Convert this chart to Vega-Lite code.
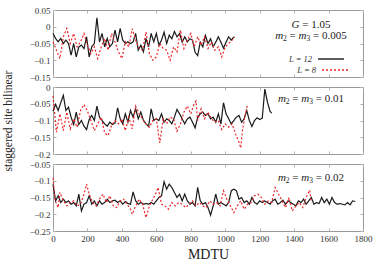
{
"$schema":"https://vega.github.io/schema/vega-lite/v6.json",
"padding":{"left":1,"top":5,"right":5,"bottom":3},
"spacing":10,
"bounds":"flush",
"config":{
 "view":{"stroke":"#9a9a9a","strokeWidth":1},
 "font":"Liberation Serif",
 "text":{"font":"Liberation Serif","fontSize":11,"color":"#222","align":"left","baseline":"middle"},
 "axis":{"labelFont":"Liberation Serif","labelFontSize":9,"labelColor":"#333","titleFont":"Liberation Serif","titleFontWeight":"normal","titleColor":"#222","domain":false,"grid":false,"tickColor":"#b0b0b0","tickSize":-3,"labelPadding":6,"labelFlush":false,"labelOverlap":false},
 "legend":{"labelFont":"Liberation Serif","labelFontSize":8.5,"labelFontStyle":"italic","labelColor":"#333","title":null,"orient":"none","symbolType":"stroke","symbolSize":676,"symbolStrokeWidth":1.4,"labelAlign":"right","labelOffset":-33}
},
"data":{"values":[
{"p":1,"L":"12","t":0,"v":-0.02},{"p":1,"L":"12","t":15,"v":-0.035},{"p":1,"L":"12","t":30,"v":-0.045},{"p":1,"L":"12","t":45,"v":-0.035},{"p":1,"L":"12","t":60,"v":-0.05},{"p":1,"L":"12","t":75,"v":-0.04},{"p":1,"L":"12","t":90,"v":-0.05},{"p":1,"L":"12","t":105,"v":-0.085},{"p":1,"L":"12","t":120,"v":-0.05},{"p":1,"L":"12","t":135,"v":-0.09},{"p":1,"L":"12","t":150,"v":-0.06},{"p":1,"L":"12","t":165,"v":-0.055},{"p":1,"L":"12","t":180,"v":-0.065},{"p":1,"L":"12","t":195,"v":-0.03},{"p":1,"L":"12","t":210,"v":-0.09},{"p":1,"L":"12","t":225,"v":-0.06},{"p":1,"L":"12","t":240,"v":-0.05},{"p":1,"L":"12","t":255,"v":0.027},{"p":1,"L":"12","t":270,"v":-0.045},{"p":1,"L":"12","t":285,"v":-0.02},{"p":1,"L":"12","t":300,"v":-0.06},{"p":1,"L":"12","t":315,"v":-0.035},{"p":1,"L":"12","t":330,"v":-0.06},{"p":1,"L":"12","t":345,"v":-0.05},{"p":1,"L":"12","t":360,"v":-0.01},{"p":1,"L":"12","t":375,"v":-0.045},{"p":1,"L":"12","t":390,"v":-0.005},{"p":1,"L":"12","t":405,"v":-0.04},{"p":1,"L":"12","t":420,"v":-0.05},{"p":1,"L":"12","t":435,"v":-0.045},{"p":1,"L":"12","t":450,"v":-0.05},{"p":1,"L":"12","t":465,"v":-0.045},{"p":1,"L":"12","t":480,"v":-0.02},{"p":1,"L":"12","t":495,"v":-0.07},{"p":1,"L":"12","t":510,"v":-0.055},{"p":1,"L":"12","t":525,"v":-0.075},{"p":1,"L":"12","t":540,"v":-0.035},{"p":1,"L":"12","t":555,"v":-0.06},{"p":1,"L":"12","t":570,"v":-0.02},{"p":1,"L":"12","t":585,"v":-0.045},{"p":1,"L":"12","t":600,"v":-0.02},{"p":1,"L":"12","t":615,"v":-0.055},{"p":1,"L":"12","t":630,"v":-0.04},{"p":1,"L":"12","t":645,"v":-0.016},{"p":1,"L":"12","t":660,"v":-0.05},{"p":1,"L":"12","t":675,"v":-0.025},{"p":1,"L":"12","t":690,"v":-0.036},{"p":1,"L":"12","t":705,"v":-0.014},{"p":1,"L":"12","t":720,"v":-0.03},{"p":1,"L":"12","t":735,"v":-0.02},{"p":1,"L":"12","t":750,"v":-0.046},{"p":1,"L":"12","t":765,"v":-0.03},{"p":1,"L":"12","t":780,"v":-0.045},{"p":1,"L":"12","t":795,"v":-0.036},{"p":1,"L":"12","t":810,"v":-0.04},{"p":1,"L":"12","t":825,"v":-0.076},{"p":1,"L":"12","t":840,"v":-0.086},{"p":1,"L":"12","t":855,"v":-0.046},{"p":1,"L":"12","t":870,"v":-0.06},{"p":1,"L":"12","t":885,"v":-0.026},{"p":1,"L":"12","t":900,"v":-0.05},{"p":1,"L":"12","t":915,"v":-0.036},{"p":1,"L":"12","t":930,"v":-0.06},{"p":1,"L":"12","t":945,"v":-0.046},{"p":1,"L":"12","t":960,"v":-0.03},{"p":1,"L":"12","t":975,"v":-0.046},{"p":1,"L":"12","t":990,"v":-0.064},{"p":1,"L":"12","t":1005,"v":-0.046},{"p":1,"L":"12","t":1020,"v":-0.03},{"p":1,"L":"12","t":1035,"v":-0.04},{"p":1,"L":"12","t":1050,"v":-0.03},
{"p":1,"L":"8","t":0,"v":-0.045},{"p":1,"L":"8","t":20,"v":-0.07},{"p":1,"L":"8","t":40,"v":-0.095},{"p":1,"L":"8","t":60,"v":-0.03},{"p":1,"L":"8","t":80,"v":-0.005},{"p":1,"L":"8","t":100,"v":-0.05},{"p":1,"L":"8","t":120,"v":-0.02},{"p":1,"L":"8","t":140,"v":-0.06},{"p":1,"L":"8","t":160,"v":-0.045},{"p":1,"L":"8","t":180,"v":-0.02},{"p":1,"L":"8","t":200,"v":-0.055},{"p":1,"L":"8","t":220,"v":-0.08},{"p":1,"L":"8","t":240,"v":-0.06},{"p":1,"L":"8","t":260,"v":-0.095},{"p":1,"L":"8","t":280,"v":-0.06},{"p":1,"L":"8","t":300,"v":-0.035},{"p":1,"L":"8","t":320,"v":-0.07},{"p":1,"L":"8","t":340,"v":-0.02},{"p":1,"L":"8","t":360,"v":-0.045},{"p":1,"L":"8","t":380,"v":-0.075},{"p":1,"L":"8","t":400,"v":-0.095},{"p":1,"L":"8","t":420,"v":-0.045},{"p":1,"L":"8","t":440,"v":-0.06},{"p":1,"L":"8","t":460,"v":-0.006},{"p":1,"L":"8","t":480,"v":-0.04},{"p":1,"L":"8","t":500,"v":-0.065},{"p":1,"L":"8","t":520,"v":-0.07},{"p":1,"L":"8","t":540,"v":-0.016},{"p":1,"L":"8","t":560,"v":-0.08},{"p":1,"L":"8","t":580,"v":-0.1},{"p":1,"L":"8","t":600,"v":-0.09},{"p":1,"L":"8","t":620,"v":-0.05},{"p":1,"L":"8","t":640,"v":-0.065},{"p":1,"L":"8","t":660,"v":-0.07},{"p":1,"L":"8","t":680,"v":-0.1},{"p":1,"L":"8","t":700,"v":-0.06},{"p":1,"L":"8","t":720,"v":-0.075},{"p":1,"L":"8","t":740,"v":-0.01},{"p":1,"L":"8","t":760,"v":-0.065},{"p":1,"L":"8","t":780,"v":-0.04},{"p":1,"L":"8","t":800,"v":-0.02},{"p":1,"L":"8","t":820,"v":-0.06},{"p":1,"L":"8","t":840,"v":-0.03},{"p":1,"L":"8","t":860,"v":-0.055},{"p":1,"L":"8","t":880,"v":-0.03},{"p":1,"L":"8","t":900,"v":-0.065},{"p":1,"L":"8","t":920,"v":-0.045},{"p":1,"L":"8","t":940,"v":-0.07},{"p":1,"L":"8","t":960,"v":-0.06},{"p":1,"L":"8","t":980,"v":-0.09},{"p":1,"L":"8","t":1000,"v":-0.06},{"p":1,"L":"8","t":1020,"v":-0.05},{"p":1,"L":"8","t":1040,"v":-0.04},{"p":1,"L":"8","t":1055,"v":-0.03},
{"p":2,"L":"12","t":0,"v":-0.072},{"p":2,"L":"12","t":15,"v":-0.052},{"p":2,"L":"12","t":30,"v":-0.07},{"p":2,"L":"12","t":45,"v":-0.047},{"p":2,"L":"12","t":60,"v":-0.025},{"p":2,"L":"12","t":75,"v":-0.07},{"p":2,"L":"12","t":90,"v":-0.06},{"p":2,"L":"12","t":105,"v":-0.09},{"p":2,"L":"12","t":120,"v":-0.112},{"p":2,"L":"12","t":135,"v":-0.075},{"p":2,"L":"12","t":150,"v":-0.112},{"p":2,"L":"12","t":165,"v":-0.1},{"p":2,"L":"12","t":180,"v":-0.117},{"p":2,"L":"12","t":195,"v":-0.127},{"p":2,"L":"12","t":210,"v":-0.097},{"p":2,"L":"12","t":225,"v":-0.085},{"p":2,"L":"12","t":240,"v":-0.1},{"p":2,"L":"12","t":255,"v":-0.057},{"p":2,"L":"12","t":270,"v":-0.09},{"p":2,"L":"12","t":285,"v":-0.1},{"p":2,"L":"12","t":300,"v":-0.11},{"p":2,"L":"12","t":315,"v":-0.117},{"p":2,"L":"12","t":330,"v":-0.105},{"p":2,"L":"12","t":345,"v":-0.112},{"p":2,"L":"12","t":360,"v":-0.108},{"p":2,"L":"12","t":375,"v":-0.062},{"p":2,"L":"12","t":390,"v":-0.095},{"p":2,"L":"12","t":405,"v":-0.11},{"p":2,"L":"12","t":420,"v":-0.08},{"p":2,"L":"12","t":435,"v":-0.105},{"p":2,"L":"12","t":450,"v":-0.07},{"p":2,"L":"12","t":465,"v":-0.09},{"p":2,"L":"12","t":480,"v":-0.065},{"p":2,"L":"12","t":495,"v":-0.095},{"p":2,"L":"12","t":510,"v":-0.075},{"p":2,"L":"12","t":525,"v":-0.1},{"p":2,"L":"12","t":540,"v":-0.11},{"p":2,"L":"12","t":555,"v":-0.118},{"p":2,"L":"12","t":570,"v":-0.065},{"p":2,"L":"12","t":585,"v":-0.1},{"p":2,"L":"12","t":600,"v":-0.095},{"p":2,"L":"12","t":615,"v":-0.1},{"p":2,"L":"12","t":630,"v":-0.08},{"p":2,"L":"12","t":645,"v":-0.105},{"p":2,"L":"12","t":660,"v":-0.095},{"p":2,"L":"12","t":675,"v":-0.1},{"p":2,"L":"12","t":690,"v":-0.11},{"p":2,"L":"12","t":705,"v":-0.09},{"p":2,"L":"12","t":720,"v":-0.067},{"p":2,"L":"12","t":735,"v":-0.08},{"p":2,"L":"12","t":750,"v":-0.095},{"p":2,"L":"12","t":765,"v":-0.11},{"p":2,"L":"12","t":780,"v":-0.095},{"p":2,"L":"12","t":795,"v":-0.09},{"p":2,"L":"12","t":810,"v":-0.105},{"p":2,"L":"12","t":825,"v":-0.122},{"p":2,"L":"12","t":840,"v":-0.09},{"p":2,"L":"12","t":855,"v":-0.08},{"p":2,"L":"12","t":870,"v":-0.075},{"p":2,"L":"12","t":885,"v":-0.085},{"p":2,"L":"12","t":900,"v":-0.08},{"p":2,"L":"12","t":915,"v":-0.095},{"p":2,"L":"12","t":930,"v":-0.09},{"p":2,"L":"12","t":945,"v":-0.105},{"p":2,"L":"12","t":960,"v":-0.08},{"p":2,"L":"12","t":975,"v":-0.11},{"p":2,"L":"12","t":990,"v":-0.047},{"p":2,"L":"12","t":1005,"v":-0.08},{"p":2,"L":"12","t":1020,"v":-0.095},{"p":2,"L":"12","t":1035,"v":-0.11},{"p":2,"L":"12","t":1050,"v":-0.1},{"p":2,"L":"12","t":1065,"v":-0.09},{"p":2,"L":"12","t":1080,"v":-0.085},{"p":2,"L":"12","t":1095,"v":-0.105},{"p":2,"L":"12","t":1110,"v":-0.095},{"p":2,"L":"12","t":1125,"v":-0.07},{"p":2,"L":"12","t":1140,"v":-0.1},{"p":2,"L":"12","t":1155,"v":-0.118},{"p":2,"L":"12","t":1170,"v":-0.1},{"p":2,"L":"12","t":1185,"v":-0.092},{"p":2,"L":"12","t":1200,"v":-0.097},{"p":2,"L":"12","t":1215,"v":-0.093},{"p":2,"L":"12","t":1230,"v":-0.006},{"p":2,"L":"12","t":1245,"v":-0.045},{"p":2,"L":"12","t":1260,"v":-0.072},{"p":2,"L":"12","t":1270,"v":-0.078},
{"p":2,"L":"8","t":0,"v":-0.027},{"p":2,"L":"8","t":20,"v":-0.135},{"p":2,"L":"8","t":40,"v":-0.08},{"p":2,"L":"8","t":60,"v":-0.13},{"p":2,"L":"8","t":80,"v":-0.075},{"p":2,"L":"8","t":100,"v":-0.125},{"p":2,"L":"8","t":120,"v":-0.095},{"p":2,"L":"8","t":140,"v":-0.12},{"p":2,"L":"8","t":160,"v":-0.07},{"p":2,"L":"8","t":180,"v":-0.052},{"p":2,"L":"8","t":200,"v":-0.072},{"p":2,"L":"8","t":220,"v":-0.1},{"p":2,"L":"8","t":240,"v":-0.13},{"p":2,"L":"8","t":260,"v":-0.11},{"p":2,"L":"8","t":280,"v":-0.09},{"p":2,"L":"8","t":300,"v":-0.137},{"p":2,"L":"8","t":320,"v":-0.145},{"p":2,"L":"8","t":340,"v":-0.115},{"p":2,"L":"8","t":360,"v":-0.1},{"p":2,"L":"8","t":380,"v":-0.11},{"p":2,"L":"8","t":400,"v":-0.095},{"p":2,"L":"8","t":420,"v":-0.13},{"p":2,"L":"8","t":440,"v":-0.09},{"p":2,"L":"8","t":460,"v":-0.125},{"p":2,"L":"8","t":480,"v":-0.057},{"p":2,"L":"8","t":500,"v":-0.08},{"p":2,"L":"8","t":520,"v":-0.095},{"p":2,"L":"8","t":540,"v":-0.11},{"p":2,"L":"8","t":560,"v":-0.12},{"p":2,"L":"8","t":580,"v":-0.1},{"p":2,"L":"8","t":600,"v":-0.095},{"p":2,"L":"8","t":610,"v":-0.13},{"p":2,"L":"8","t":620,"v":-0.167},{"p":2,"L":"8","t":640,"v":-0.095},{"p":2,"L":"8","t":660,"v":-0.11},{"p":2,"L":"8","t":680,"v":-0.09},{"p":2,"L":"8","t":700,"v":-0.095},{"p":2,"L":"8","t":720,"v":-0.132},{"p":2,"L":"8","t":740,"v":-0.11},{"p":2,"L":"8","t":760,"v":-0.075},{"p":2,"L":"8","t":780,"v":-0.057},{"p":2,"L":"8","t":800,"v":-0.08},{"p":2,"L":"8","t":820,"v":-0.05},{"p":2,"L":"8","t":830,"v":-0.042},{"p":2,"L":"8","t":840,"v":-0.1},{"p":2,"L":"8","t":860,"v":-0.065},{"p":2,"L":"8","t":880,"v":-0.095},{"p":2,"L":"8","t":900,"v":-0.075},{"p":2,"L":"8","t":920,"v":-0.095},{"p":2,"L":"8","t":940,"v":-0.105},{"p":2,"L":"8","t":960,"v":-0.1},{"p":2,"L":"8","t":980,"v":-0.127},{"p":2,"L":"8","t":1000,"v":-0.11},{"p":2,"L":"8","t":1020,"v":-0.12},{"p":2,"L":"8","t":1040,"v":-0.11},{"p":2,"L":"8","t":1060,"v":-0.14},{"p":2,"L":"8","t":1080,"v":-0.165},{"p":2,"L":"8","t":1090,"v":-0.182},{"p":2,"L":"8","t":1100,"v":-0.13},{"p":2,"L":"8","t":1115,"v":-0.085},{"p":2,"L":"8","t":1130,"v":-0.052},
{"p":3,"L":"12","t":0,"v":-0.111},{"p":3,"L":"12","t":15,"v":-0.16},{"p":3,"L":"12","t":30,"v":-0.145},{"p":3,"L":"12","t":45,"v":-0.165},{"p":3,"L":"12","t":60,"v":-0.155},{"p":3,"L":"12","t":75,"v":-0.165},{"p":3,"L":"12","t":90,"v":-0.16},{"p":3,"L":"12","t":105,"v":-0.17},{"p":3,"L":"12","t":120,"v":-0.165},{"p":3,"L":"12","t":135,"v":-0.175},{"p":3,"L":"12","t":150,"v":-0.14},{"p":3,"L":"12","t":165,"v":-0.19},{"p":3,"L":"12","t":180,"v":-0.17},{"p":3,"L":"12","t":195,"v":-0.165},{"p":3,"L":"12","t":210,"v":-0.145},{"p":3,"L":"12","t":225,"v":-0.17},{"p":3,"L":"12","t":240,"v":-0.16},{"p":3,"L":"12","t":255,"v":-0.175},{"p":3,"L":"12","t":270,"v":-0.16},{"p":3,"L":"12","t":285,"v":-0.17},{"p":3,"L":"12","t":300,"v":-0.165},{"p":3,"L":"12","t":315,"v":-0.155},{"p":3,"L":"12","t":330,"v":-0.165},{"p":3,"L":"12","t":345,"v":-0.16},{"p":3,"L":"12","t":360,"v":-0.158},{"p":3,"L":"12","t":375,"v":-0.165},{"p":3,"L":"12","t":390,"v":-0.16},{"p":3,"L":"12","t":405,"v":-0.17},{"p":3,"L":"12","t":420,"v":-0.162},{"p":3,"L":"12","t":435,"v":-0.168},{"p":3,"L":"12","t":450,"v":-0.17},{"p":3,"L":"12","t":465,"v":-0.133},{"p":3,"L":"12","t":480,"v":-0.16},{"p":3,"L":"12","t":495,"v":-0.17},{"p":3,"L":"12","t":510,"v":-0.165},{"p":3,"L":"12","t":525,"v":-0.17},{"p":3,"L":"12","t":540,"v":-0.168},{"p":3,"L":"12","t":555,"v":-0.17},{"p":3,"L":"12","t":570,"v":-0.165},{"p":3,"L":"12","t":585,"v":-0.17},{"p":3,"L":"12","t":600,"v":-0.16},{"p":3,"L":"12","t":615,"v":-0.15},{"p":3,"L":"12","t":630,"v":-0.145},{"p":3,"L":"12","t":645,"v":-0.103},{"p":3,"L":"12","t":660,"v":-0.125},{"p":3,"L":"12","t":675,"v":-0.11},{"p":3,"L":"12","t":690,"v":-0.12},{"p":3,"L":"12","t":705,"v":-0.135},{"p":3,"L":"12","t":720,"v":-0.15},{"p":3,"L":"12","t":735,"v":-0.14},{"p":3,"L":"12","t":750,"v":-0.16},{"p":3,"L":"12","t":765,"v":-0.14},{"p":3,"L":"12","t":780,"v":-0.16},{"p":3,"L":"12","t":795,"v":-0.17},{"p":3,"L":"12","t":810,"v":-0.165},{"p":3,"L":"12","t":825,"v":-0.175},{"p":3,"L":"12","t":840,"v":-0.12},{"p":3,"L":"12","t":855,"v":-0.16},{"p":3,"L":"12","t":870,"v":-0.17},{"p":3,"L":"12","t":885,"v":-0.165},{"p":3,"L":"12","t":900,"v":-0.18},{"p":3,"L":"12","t":915,"v":-0.203},{"p":3,"L":"12","t":930,"v":-0.175},{"p":3,"L":"12","t":945,"v":-0.14},{"p":3,"L":"12","t":960,"v":-0.17},{"p":3,"L":"12","t":975,"v":-0.165},{"p":3,"L":"12","t":990,"v":-0.17},{"p":3,"L":"12","t":1005,"v":-0.175},{"p":3,"L":"12","t":1020,"v":-0.165},{"p":3,"L":"12","t":1035,"v":-0.13},{"p":3,"L":"12","t":1050,"v":-0.125},{"p":3,"L":"12","t":1065,"v":-0.13},{"p":3,"L":"12","t":1080,"v":-0.155},{"p":3,"L":"12","t":1095,"v":-0.15},{"p":3,"L":"12","t":1110,"v":-0.165},{"p":3,"L":"12","t":1125,"v":-0.16},{"p":3,"L":"12","t":1140,"v":-0.17},{"p":3,"L":"12","t":1155,"v":-0.15},{"p":3,"L":"12","t":1170,"v":-0.165},{"p":3,"L":"12","t":1185,"v":-0.17},{"p":3,"L":"12","t":1200,"v":-0.16},{"p":3,"L":"12","t":1215,"v":-0.165},{"p":3,"L":"12","t":1230,"v":-0.16},{"p":3,"L":"12","t":1245,"v":-0.165},{"p":3,"L":"12","t":1260,"v":-0.17},{"p":3,"L":"12","t":1275,"v":-0.16},{"p":3,"L":"12","t":1290,"v":-0.155},{"p":3,"L":"12","t":1305,"v":-0.17},{"p":3,"L":"12","t":1320,"v":-0.165},{"p":3,"L":"12","t":1335,"v":-0.158},{"p":3,"L":"12","t":1350,"v":-0.17},{"p":3,"L":"12","t":1365,"v":-0.16},{"p":3,"L":"12","t":1380,"v":-0.165},{"p":3,"L":"12","t":1395,"v":-0.17},{"p":3,"L":"12","t":1410,"v":-0.175},{"p":3,"L":"12","t":1425,"v":-0.16},{"p":3,"L":"12","t":1440,"v":-0.165},{"p":3,"L":"12","t":1455,"v":-0.155},{"p":3,"L":"12","t":1470,"v":-0.17},{"p":3,"L":"12","t":1485,"v":-0.16},{"p":3,"L":"12","t":1500,"v":-0.15},{"p":3,"L":"12","t":1515,"v":-0.17},{"p":3,"L":"12","t":1530,"v":-0.165},{"p":3,"L":"12","t":1545,"v":-0.168},{"p":3,"L":"12","t":1560,"v":-0.15},{"p":3,"L":"12","t":1575,"v":-0.165},{"p":3,"L":"12","t":1590,"v":-0.155},{"p":3,"L":"12","t":1605,"v":-0.17},{"p":3,"L":"12","t":1620,"v":-0.15},{"p":3,"L":"12","t":1635,"v":-0.165},{"p":3,"L":"12","t":1650,"v":-0.17},{"p":3,"L":"12","t":1665,"v":-0.168},{"p":3,"L":"12","t":1680,"v":-0.17},{"p":3,"L":"12","t":1695,"v":-0.172},{"p":3,"L":"12","t":1710,"v":-0.165},{"p":3,"L":"12","t":1725,"v":-0.172},{"p":3,"L":"12","t":1740,"v":-0.16},{"p":3,"L":"12","t":1755,"v":-0.162},
{"p":3,"L":"8","t":0,"v":-0.091},{"p":3,"L":"8","t":10,"v":-0.15},{"p":3,"L":"8","t":20,"v":-0.17},{"p":3,"L":"8","t":30,"v":-0.18},{"p":3,"L":"8","t":40,"v":-0.135},{"p":3,"L":"8","t":60,"v":-0.16},{"p":3,"L":"8","t":80,"v":-0.175},{"p":3,"L":"8","t":100,"v":-0.165},{"p":3,"L":"8","t":120,"v":-0.16},{"p":3,"L":"8","t":140,"v":-0.175},{"p":3,"L":"8","t":160,"v":-0.17},{"p":3,"L":"8","t":180,"v":-0.14},{"p":3,"L":"8","t":195,"v":-0.11},{"p":3,"L":"8","t":210,"v":-0.14},{"p":3,"L":"8","t":230,"v":-0.165},{"p":3,"L":"8","t":250,"v":-0.175},{"p":3,"L":"8","t":270,"v":-0.155},{"p":3,"L":"8","t":290,"v":-0.14},{"p":3,"L":"8","t":310,"v":-0.165},{"p":3,"L":"8","t":330,"v":-0.145},{"p":3,"L":"8","t":350,"v":-0.175},{"p":3,"L":"8","t":370,"v":-0.18},{"p":3,"L":"8","t":390,"v":-0.16},{"p":3,"L":"8","t":410,"v":-0.155},{"p":3,"L":"8","t":430,"v":-0.17},{"p":3,"L":"8","t":450,"v":-0.185},{"p":3,"L":"8","t":460,"v":-0.2},{"p":3,"L":"8","t":480,"v":-0.175},{"p":3,"L":"8","t":500,"v":-0.155},{"p":3,"L":"8","t":520,"v":-0.17},{"p":3,"L":"8","t":540,"v":-0.21},{"p":3,"L":"8","t":560,"v":-0.175},{"p":3,"L":"8","t":580,"v":-0.155},{"p":3,"L":"8","t":600,"v":-0.135},{"p":3,"L":"8","t":610,"v":-0.12},{"p":3,"L":"8","t":630,"v":-0.17},{"p":3,"L":"8","t":650,"v":-0.175},{"p":3,"L":"8","t":670,"v":-0.185},{"p":3,"L":"8","t":690,"v":-0.165},{"p":3,"L":"8","t":710,"v":-0.175},{"p":3,"L":"8","t":730,"v":-0.165},{"p":3,"L":"8","t":750,"v":-0.17},{"p":3,"L":"8","t":770,"v":-0.18},{"p":3,"L":"8","t":790,"v":-0.17},{"p":3,"L":"8","t":810,"v":-0.16},{"p":3,"L":"8","t":830,"v":-0.175},{"p":3,"L":"8","t":850,"v":-0.165},{"p":3,"L":"8","t":870,"v":-0.175},{"p":3,"L":"8","t":890,"v":-0.18},{"p":3,"L":"8","t":910,"v":-0.16},{"p":3,"L":"8","t":930,"v":-0.17},{"p":3,"L":"8","t":950,"v":-0.165},{"p":3,"L":"8","t":970,"v":-0.175},{"p":3,"L":"8","t":990,"v":-0.13},{"p":3,"L":"8","t":1010,"v":-0.155},{"p":3,"L":"8","t":1030,"v":-0.175},{"p":3,"L":"8","t":1050,"v":-0.195},{"p":3,"L":"8","t":1070,"v":-0.175},{"p":3,"L":"8","t":1090,"v":-0.16},{"p":3,"L":"8","t":1110,"v":-0.185},{"p":3,"L":"8","t":1130,"v":-0.17},{"p":3,"L":"8","t":1150,"v":-0.165},{"p":3,"L":"8","t":1170,"v":-0.145},{"p":3,"L":"8","t":1190,"v":-0.14},{"p":3,"L":"8","t":1210,"v":-0.15},{"p":3,"L":"8","t":1230,"v":-0.17},{"p":3,"L":"8","t":1250,"v":-0.16},{"p":3,"L":"8","t":1270,"v":-0.165},{"p":3,"L":"8","t":1290,"v":-0.12},{"p":3,"L":"8","t":1310,"v":-0.14},{"p":3,"L":"8","t":1330,"v":-0.16},{"p":3,"L":"8","t":1350,"v":-0.18},{"p":3,"L":"8","t":1370,"v":-0.15},{"p":3,"L":"8","t":1390,"v":-0.19},{"p":3,"L":"8","t":1410,"v":-0.175},{"p":3,"L":"8","t":1430,"v":-0.165},{"p":3,"L":"8","t":1450,"v":-0.18},{"p":3,"L":"8","t":1470,"v":-0.15},{"p":3,"L":"8","t":1490,"v":-0.128},{"p":3,"L":"8","t":1500,"v":-0.165}
]},
"vconcat":[
{"width":310,"height":67,
 "transform":[{"filter":"datum.p == 1"}],
 "resolve":{"axis":{"x":"independent","y":"independent"}},
 "layer":[
  {"mark":{"type":"line","strokeWidth":1.2},
   "encoding":{
    "x":{"field":"t","type":"quantitative","scale":{"domain":[0,1800],"nice":false},"axis":{"values":[0,200,400,600,800,1000,1200,1400,1600,1800],"labels":false,"title":null}},
    "y":{"field":"v","type":"quantitative","scale":{"domain":[-0.15,0.05],"nice":false,"zero":false},"axis":{"values":[-0.15,-0.1,-0.05,0,0.05],"format":".2~f","title":null}},
    "color":{"field":"L","type":"nominal","scale":{"domain":["12","8"],"range":["#1a1a1a","#e8262a"]},"legend":{"values":["12"],"legendX":264,"legendY":35,"labelExpr":"'L = ' + datum.label"}},
    "strokeDash":{"field":"L","type":"nominal","scale":{"domain":["8","12"],"range":[[2,2],[1,0]]},"legend":{"values":["8"],"legendX":268,"legendY":46,"symbolStrokeColor":"#e8262a","labelExpr":"'L = ' + datum.label"}}
   }},
  {"mark":{"type":"point","opacity":0},
   "encoding":{
    "x":{"field":"t","type":"quantitative","scale":{"domain":[0,1800],"nice":false},"axis":{"orient":"top","values":[0,200,400,600,800,1000,1200,1400,1600,1800],"labels":false,"title":null}},
    "y":{"field":"v","type":"quantitative","scale":{"domain":[-0.15,0.05],"nice":false,"zero":false},"axis":{"orient":"right","values":[-0.15,-0.1,-0.05,0,0.05],"labels":false,"title":null}}
   }},
  {"transform":[{"aggregate":[{"op":"count","as":"n"}]}],"mark":{"type":"text","fontStyle":"italic"},
   "encoding":{"x":{"datum":1385,"type":"quantitative","axis":null},"y":{"datum":0.0052,"type":"quantitative","axis":null},"text":{"value":"G"}}},
  {"transform":[{"aggregate":[{"op":"count","as":"n"}]}],"mark":{"type":"text","dx":10.7},
   "encoding":{"x":{"datum":1385,"type":"quantitative","axis":null},"y":{"datum":0.0052,"type":"quantitative","axis":null},"text":{"value":"= 1.05"}}},
  {"transform":[{"aggregate":[{"op":"count","as":"n"}]}],"mark":{"type":"text","fontStyle":"italic"},
   "encoding":{"x":{"datum":1290,"type":"quantitative","axis":null},"y":{"datum":-0.029,"type":"quantitative","axis":null},"text":{"value":"m"}}},
  {"transform":[{"aggregate":[{"op":"count","as":"n"}]}],"mark":{"type":"text","fontSize":7.5,"dx":7.94,"dy":3},
   "encoding":{"x":{"datum":1290,"type":"quantitative","axis":null},"y":{"datum":-0.029,"type":"quantitative","axis":null},"text":{"value":"2"}}},
  {"transform":[{"aggregate":[{"op":"count","as":"n"}]}],"mark":{"type":"text","dx":14.44},
   "encoding":{"x":{"datum":1290,"type":"quantitative","axis":null},"y":{"datum":-0.029,"type":"quantitative","axis":null},"text":{"value":"="}}},
  {"transform":[{"aggregate":[{"op":"count","as":"n"}]}],"mark":{"type":"text","fontStyle":"italic","dx":23.39},
   "encoding":{"x":{"datum":1290,"type":"quantitative","axis":null},"y":{"datum":-0.029,"type":"quantitative","axis":null},"text":{"value":"m"}}},
  {"transform":[{"aggregate":[{"op":"count","as":"n"}]}],"mark":{"type":"text","fontSize":7.5,"dx":31.33,"dy":3},
   "encoding":{"x":{"datum":1290,"type":"quantitative","axis":null},"y":{"datum":-0.029,"type":"quantitative","axis":null},"text":{"value":"3"}}},
  {"transform":[{"aggregate":[{"op":"count","as":"n"}]}],"mark":{"type":"text","dx":37.83},
   "encoding":{"x":{"datum":1290,"type":"quantitative","axis":null},"y":{"datum":-0.029,"type":"quantitative","axis":null},"text":{"value":"= 0.005"}}}
 ]},
{"width":310,"height":67,
 "transform":[{"filter":"datum.p == 2"}],
 "resolve":{"axis":{"x":"independent","y":"independent"}},
 "layer":[
  {"mark":{"type":"line","strokeWidth":1.2},
   "encoding":{
    "x":{"field":"t","type":"quantitative","scale":{"domain":[0,1800],"nice":false},"axis":{"values":[0,200,400,600,800,1000,1200,1400,1600,1800],"labels":false,"title":null}},
    "y":{"field":"v","type":"quantitative","scale":{"domain":[-0.2,0],"nice":false,"zero":false},"axis":{"values":[-0.2,-0.15,-0.1,-0.05,0],"format":".2~f","title":"staggered site bilinear","titleFontSize":11.5,"titlePadding":16}},
    "color":{"field":"L","type":"nominal","scale":{"domain":["12","8"],"range":["#1a1a1a","#e8262a"]},"legend":{"values":["12"],"legendX":264,"legendY":35,"labelExpr":"'L = ' + datum.label"}},
    "strokeDash":{"field":"L","type":"nominal","scale":{"domain":["8","12"],"range":[[2,2],[1,0]]},"legend":{"values":["8"],"legendX":268,"legendY":46,"symbolStrokeColor":"#e8262a","labelExpr":"'L = ' + datum.label"}}
   }},
  {"mark":{"type":"point","opacity":0},
   "encoding":{
    "x":{"field":"t","type":"quantitative","scale":{"domain":[0,1800],"nice":false},"axis":{"orient":"top","values":[0,200,400,600,800,1000,1200,1400,1600,1800],"labels":false,"title":null}},
    "y":{"field":"v","type":"quantitative","scale":{"domain":[-0.2,0],"nice":false,"zero":false},"axis":{"orient":"right","values":[-0.2,-0.15,-0.1,-0.05,0],"labels":false,"title":null}}
   }},
  {"transform":[{"aggregate":[{"op":"count","as":"n"}]}],"mark":{"type":"text","fontStyle":"italic"},
   "encoding":{"x":{"datum":1306,"type":"quantitative","axis":null},"y":{"datum":-0.036,"type":"quantitative","axis":null},"text":{"value":"m"}}},
  {"transform":[{"aggregate":[{"op":"count","as":"n"}]}],"mark":{"type":"text","fontSize":7.5,"dx":7.94,"dy":3},
   "encoding":{"x":{"datum":1306,"type":"quantitative","axis":null},"y":{"datum":-0.036,"type":"quantitative","axis":null},"text":{"value":"2"}}},
  {"transform":[{"aggregate":[{"op":"count","as":"n"}]}],"mark":{"type":"text","dx":14.44},
   "encoding":{"x":{"datum":1306,"type":"quantitative","axis":null},"y":{"datum":-0.036,"type":"quantitative","axis":null},"text":{"value":"="}}},
  {"transform":[{"aggregate":[{"op":"count","as":"n"}]}],"mark":{"type":"text","fontStyle":"italic","dx":23.39},
   "encoding":{"x":{"datum":1306,"type":"quantitative","axis":null},"y":{"datum":-0.036,"type":"quantitative","axis":null},"text":{"value":"m"}}},
  {"transform":[{"aggregate":[{"op":"count","as":"n"}]}],"mark":{"type":"text","fontSize":7.5,"dx":31.33,"dy":3},
   "encoding":{"x":{"datum":1306,"type":"quantitative","axis":null},"y":{"datum":-0.036,"type":"quantitative","axis":null},"text":{"value":"3"}}},
  {"transform":[{"aggregate":[{"op":"count","as":"n"}]}],"mark":{"type":"text","dx":37.83},
   "encoding":{"x":{"datum":1306,"type":"quantitative","axis":null},"y":{"datum":-0.036,"type":"quantitative","axis":null},"text":{"value":"= 0.01"}}}
 ]},
{"width":310,"height":67,
 "transform":[{"filter":"datum.p == 3"}],
 "resolve":{"axis":{"x":"independent","y":"independent"}},
 "layer":[
  {"mark":{"type":"line","strokeWidth":1.2},
   "encoding":{
    "x":{"field":"t","type":"quantitative","scale":{"domain":[0,1800],"nice":false},"axis":{"values":[0,200,400,600,800,1000,1200,1400,1600,1800],"format":"d","title":"MDTU","titleFontSize":14,"titlePadding":4}},
    "y":{"field":"v","type":"quantitative","scale":{"domain":[-0.25,-0.05],"nice":false,"zero":false},"axis":{"values":[-0.25,-0.2,-0.15,-0.1,-0.05],"format":".2~f","title":null}},
    "color":{"field":"L","type":"nominal","scale":{"domain":["12","8"],"range":["#1a1a1a","#e8262a"]},"legend":{"values":["12"],"legendX":264,"legendY":35,"labelExpr":"'L = ' + datum.label"}},
    "strokeDash":{"field":"L","type":"nominal","scale":{"domain":["8","12"],"range":[[2,2],[1,0]]},"legend":{"values":["8"],"legendX":268,"legendY":46,"symbolStrokeColor":"#e8262a","labelExpr":"'L = ' + datum.label"}}
   }},
  {"mark":{"type":"point","opacity":0},
   "encoding":{
    "x":{"field":"t","type":"quantitative","scale":{"domain":[0,1800],"nice":false},"axis":{"orient":"top","values":[0,200,400,600,800,1000,1200,1400,1600,1800],"labels":false,"title":null}},
    "y":{"field":"v","type":"quantitative","scale":{"domain":[-0.25,-0.05],"nice":false,"zero":false},"axis":{"orient":"right","values":[-0.25,-0.2,-0.15,-0.1,-0.05],"labels":false,"title":null}}
   }},
  {"transform":[{"aggregate":[{"op":"count","as":"n"}]}],"mark":{"type":"text","fontStyle":"italic"},
   "encoding":{"x":{"datum":1306,"type":"quantitative","axis":null},"y":{"datum":-0.092,"type":"quantitative","axis":null},"text":{"value":"m"}}},
  {"transform":[{"aggregate":[{"op":"count","as":"n"}]}],"mark":{"type":"text","fontSize":7.5,"dx":7.94,"dy":3},
   "encoding":{"x":{"datum":1306,"type":"quantitative","axis":null},"y":{"datum":-0.092,"type":"quantitative","axis":null},"text":{"value":"2"}}},
  {"transform":[{"aggregate":[{"op":"count","as":"n"}]}],"mark":{"type":"text","dx":14.44},
   "encoding":{"x":{"datum":1306,"type":"quantitative","axis":null},"y":{"datum":-0.092,"type":"quantitative","axis":null},"text":{"value":"="}}},
  {"transform":[{"aggregate":[{"op":"count","as":"n"}]}],"mark":{"type":"text","fontStyle":"italic","dx":23.39},
   "encoding":{"x":{"datum":1306,"type":"quantitative","axis":null},"y":{"datum":-0.092,"type":"quantitative","axis":null},"text":{"value":"m"}}},
  {"transform":[{"aggregate":[{"op":"count","as":"n"}]}],"mark":{"type":"text","fontSize":7.5,"dx":31.33,"dy":3},
   "encoding":{"x":{"datum":1306,"type":"quantitative","axis":null},"y":{"datum":-0.092,"type":"quantitative","axis":null},"text":{"value":"3"}}},
  {"transform":[{"aggregate":[{"op":"count","as":"n"}]}],"mark":{"type":"text","dx":37.83},
   "encoding":{"x":{"datum":1306,"type":"quantitative","axis":null},"y":{"datum":-0.092,"type":"quantitative","axis":null},"text":{"value":"= 0.02"}}}
 ]}
]
}
